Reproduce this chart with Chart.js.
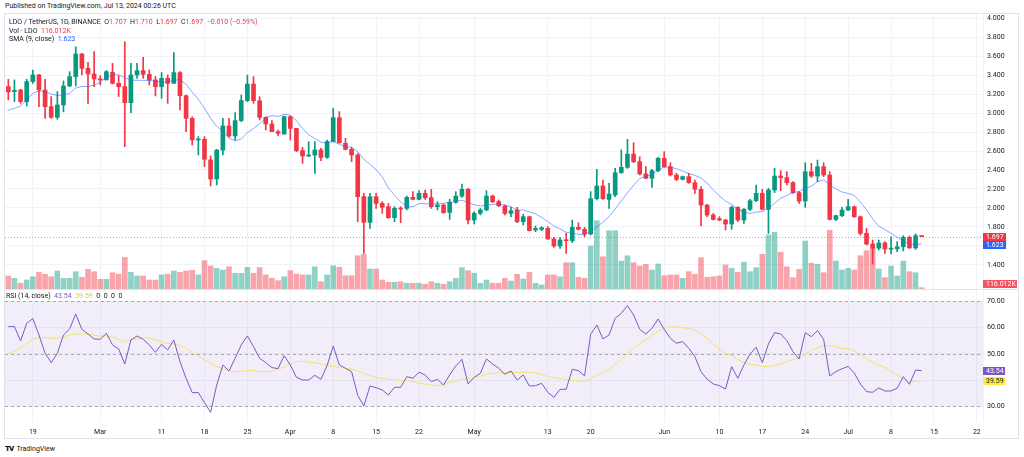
<!DOCTYPE html>
<html>
<head>
<meta charset="utf-8">
<script src="https://cdn.jsdelivr.net/npm/chart.js@4.4.1/dist/chart.umd.min.js"></script>
<style>
  body { margin: 0; width: 1024px; height: 457px; background: #fff; position: relative; overflow: hidden;
         font-family: Roboto, "Liberation Sans", sans-serif; color: #131722; }
  .abs { position: absolute; white-space: nowrap; }
  #pub { left: 5px; top: 2px; font-size: 7px; color: #131722; }
  #frame { left: 4px; top: 13px; width: 1015px; height: 426px; border: 1px solid #E0E3EB; box-sizing: border-box; }
  #sep { left: 4px; top: 289px; width: 1015px; height: 1px; background: #E0E3EB; }
  .leg { font-size: 7px; left: 9px; }
  .red { color: #F23645; }
  .blue { color: #2962FF; }
  .purple { color: #7E57C2; }
  .yellow { color: #E8C930; }
  canvas { position: absolute; }
  #logo { left: 5px; top: 444px; font-size: 7px; }
  #logo b { font-size: 8px; font-weight: 900; letter-spacing: -1px; margin-right: 3px; }
</style>
</head>
<body>
<div id="pub" class="abs">Published on TradingView.com, Jul 13, 2024 00:26 UTC</div>
<div id="frame" class="abs"></div>
<canvas id="priceChart" width="1014" height="275" style="left:5px; top:14px;"></canvas>
<canvas id="rsiChart" width="1014" height="148" style="left:5px; top:290px;"></canvas>
<div id="sep" class="abs"></div>
<div class="abs leg" style="top:18px;">LDO / TetherUS, 1D, BINANCE&nbsp;&nbsp;<span id="ohlc"></span></div>
<div class="abs leg" style="top:27px;">Vol · LDO&nbsp;&nbsp;<span class="red" id="volVal"></span></div>
<div class="abs leg" style="top:35px;">SMA (9, close)&nbsp;&nbsp;<span class="blue" id="smaVal"></span></div>
<div class="abs leg" style="top:292px; left:6px;">RSI (14, close)&nbsp;&nbsp;<span class="purple" id="rsiVal"></span>&nbsp;&nbsp;<span class="yellow" id="rsiMaVal"></span>&nbsp;&nbsp;0&nbsp;&nbsp;0&nbsp;&nbsp;0&nbsp;&nbsp;0</div>
<div id="logo" class="abs"><b>TV</b>TradingView</div>
<script>
// --- DATA (daily candles from Feb 15 to Jul 13, 2024) ---
const opens = [
  3.279, 3.227, 3.244, 3.121, 3.332, 3.402, 3.244, 3.068, 2.956, 3.086,
  3.286, 3.385, 3.624, 3.472, 3.413, 3.360, 3.350, 3.430, 3.314, 3.279,
  3.110, 3.402, 3.448, 3.409, 3.350, 3.279, 3.367, 3.314, 3.427, 3.184,
  2.945, 2.716, 2.724, 2.506, 2.305, 2.610, 2.864, 2.759, 2.921, 3.132,
  3.307, 3.131, 2.955, 2.885, 2.804, 2.779, 2.962, 2.839, 2.604, 2.547,
  2.558, 2.611, 2.533, 2.699, 2.952, 2.681, 2.618, 2.558, 2.118, 1.848,
  2.118, 2.048, 2.013, 1.897, 1.995, 1.995, 2.111, 2.090, 2.154, 2.108,
  2.013, 2.030, 1.953, 2.059, 2.125, 2.196, 1.872, 1.943, 1.978, 2.125,
  2.066, 2.020, 1.942, 1.978, 1.855, 1.907, 1.767, 1.774, 1.784, 1.672,
  1.598, 1.661, 1.654, 1.795, 1.774, 1.725, 2.097, 2.231, 2.090, 2.136,
  2.371, 2.428, 2.568, 2.488, 2.358, 2.312, 2.393, 2.523, 2.435, 2.347,
  2.301, 2.330, 2.266, 2.196, 2.030, 1.925, 1.886, 1.872, 1.830, 2.006,
  1.872, 1.985, 2.076, 2.153, 1.985, 2.189, 2.336, 2.319, 2.266, 2.161,
  2.073, 2.382, 2.336, 2.435, 2.347, 1.879, 1.918, 1.978, 2.013, 1.907,
  1.731, 1.619, 1.576, 1.630, 1.565, 1.568, 1.590, 1.689, 1.578, 1.707
];
const highs = [
  3.356, 3.350, 3.250, 3.357, 3.455, 3.409, 3.357, 3.174, 3.227, 3.339,
  3.437, 3.700, 3.631, 3.536, 3.648, 3.395, 3.448, 3.525, 3.395, 3.754,
  3.525, 3.525, 3.589, 3.455, 3.385, 3.427, 3.402, 3.638, 3.437, 3.191,
  2.962, 2.752, 2.752, 2.548, 2.618, 2.945, 2.945, 3.005, 3.191, 3.402,
  3.385, 3.173, 2.962, 2.920, 2.822, 2.969, 2.969, 2.839, 2.639, 2.699,
  2.699, 2.628, 2.716, 3.050, 3.015, 2.734, 2.639, 2.575, 2.154, 2.154,
  2.154, 2.066, 2.048, 2.013, 2.013, 2.125, 2.171, 2.182, 2.189, 2.196,
  2.066, 2.041, 2.090, 2.171, 2.252, 2.206, 1.960, 1.995, 2.182, 2.136,
  2.083, 2.030, 2.006, 2.006, 1.932, 1.914, 1.809, 1.802, 1.802, 1.689,
  1.689, 1.731, 1.872, 1.844, 1.795, 2.171, 2.407, 2.294, 2.259, 2.417,
  2.611, 2.723, 2.688, 2.540, 2.435, 2.407, 2.533, 2.593, 2.477, 2.365,
  2.336, 2.365, 2.294, 2.224, 2.037, 1.942, 1.907, 1.879, 2.020, 2.013,
  1.995, 2.090, 2.241, 2.196, 2.206, 2.417, 2.393, 2.382, 2.277, 2.171,
  2.477, 2.470, 2.505, 2.477, 2.382, 1.925, 2.006, 2.090, 2.020, 1.914,
  1.784, 1.661, 1.661, 1.644, 1.696, 1.644, 1.707, 1.703, 1.725, 1.710
];
const lows = [
  3.138, 3.121, 3.103, 3.075, 3.314, 3.068, 2.945, 2.945, 2.935, 3.015,
  3.279, 3.286, 3.402, 3.103, 3.279, 3.297, 3.350, 3.307, 3.174, 2.646,
  3.005, 3.367, 3.367, 3.297, 3.181, 3.156, 3.103, 3.314, 3.033, 2.804,
  2.664, 2.558, 2.435, 2.231, 2.242, 2.558, 2.745, 2.716, 2.910, 3.121,
  3.103, 2.927, 2.822, 2.804, 2.758, 2.779, 2.716, 2.593, 2.470, 2.540,
  2.364, 2.498, 2.523, 2.699, 2.681, 2.611, 2.488, 1.855, 1.521, 1.784,
  1.995, 1.943, 1.890, 1.855, 1.844, 1.978, 2.083, 2.083, 2.090, 1.995,
  1.978, 1.943, 1.879, 2.048, 2.111, 1.830, 1.830, 1.925, 1.971, 2.055,
  2.013, 1.925, 1.907, 1.844, 1.819, 1.756, 1.749, 1.760, 1.668, 1.584,
  1.573, 1.521, 1.633, 1.767, 1.696, 1.714, 2.083, 2.090, 1.995, 2.118,
  2.365, 2.417, 2.477, 2.347, 2.308, 2.217, 2.382, 2.428, 2.336, 2.287,
  2.294, 2.259, 2.153, 1.809, 1.907, 1.872, 1.865, 1.767, 1.774, 1.855,
  1.837, 1.971, 2.066, 1.978, 1.731, 2.161, 2.182, 2.242, 2.153, 2.048,
  2.006, 2.322, 2.277, 2.330, 1.872, 1.865, 1.907, 1.971, 1.900, 1.714,
  1.609, 1.408, 1.556, 1.521, 1.514, 1.538, 1.545, 1.573, 1.563, 1.697
];
const closes = [
  3.223, 3.241, 3.121, 3.332, 3.402, 3.244, 3.068, 2.956, 3.086, 3.286,
  3.385, 3.624, 3.472, 3.413, 3.360, 3.350, 3.437, 3.314, 3.279, 3.110,
  3.402, 3.448, 3.409, 3.350, 3.279, 3.367, 3.314, 3.427, 3.184, 2.945,
  2.716, 2.727, 2.513, 2.305, 2.610, 2.864, 2.759, 2.921, 3.132, 3.307,
  3.132, 2.955, 2.885, 2.804, 2.786, 2.962, 2.839, 2.604, 2.547, 2.558,
  2.611, 2.533, 2.699, 2.952, 2.688, 2.618, 2.558, 2.118, 1.848, 2.118,
  2.048, 2.006, 1.897, 1.995, 1.988, 2.111, 2.090, 2.154, 2.108, 2.013,
  2.030, 1.950, 2.059, 2.125, 2.196, 1.872, 1.943, 1.978, 2.125, 2.066,
  2.023, 1.942, 1.971, 1.855, 1.907, 1.760, 1.784, 1.791, 1.672, 1.598,
  1.661, 1.654, 1.795, 1.774, 1.725, 2.097, 2.231, 2.097, 2.146, 2.371,
  2.428, 2.568, 2.488, 2.358, 2.312, 2.393, 2.523, 2.435, 2.347, 2.301,
  2.330, 2.266, 2.196, 2.030, 1.925, 1.879, 1.872, 1.830, 2.006, 1.872,
  1.985, 2.076, 2.153, 1.985, 2.189, 2.336, 2.319, 2.266, 2.161, 2.073,
  2.382, 2.336, 2.435, 2.347, 1.879, 1.918, 1.978, 2.013, 1.907, 1.731,
  1.619, 1.576, 1.630, 1.565, 1.575, 1.590, 1.689, 1.578, 1.707, 1.697
];
// volume in millions of LDO
const volumes = [
  1.16, 0.95, 0.51, 0.80, 1.09, 1.49, 1.31, 1.09, 1.60, 0.95,
  0.95, 1.54, 1.04, 1.75, 1.54, 0.86, 0.86, 1.45, 1.31, 2.82,
  1.49, 1.16, 1.16, 0.80, 0.80, 1.25, 1.31, 1.60, 1.49, 1.60,
  1.66, 1.25, 2.52, 2.05, 1.84, 1.69, 1.98, 1.40, 1.40, 1.93,
  1.40, 1.91, 1.25, 0.95, 0.74, 1.09, 1.63, 1.34, 1.25, 1.25,
  1.98, 0.65, 1.25, 2.07, 1.93, 1.18, 1.18, 2.96, 3.09, 1.78,
  1.78, 0.80, 0.60, 0.60, 0.65, 0.51, 0.51, 0.51, 0.42, 0.65,
  0.51, 0.42, 0.65, 0.95, 1.90, 1.63, 1.40, 0.51, 0.80, 0.51,
  0.51, 0.95, 0.71, 1.31, 0.89, 1.49, 0.51, 0.36, 1.25, 1.25,
  1.09, 2.34, 2.34, 1.04, 0.95, 3.83, 6.08, 2.87, 5.19, 5.19,
  2.49, 2.96, 2.34, 2.05, 2.20, 1.69, 2.23, 1.18, 1.25, 1.25,
  0.95, 1.54, 1.31, 2.79, 1.04, 1.09, 1.16, 2.14, 1.84, 1.49,
  2.38, 1.54, 1.90, 3.09, 4.81, 5.05, 3.27, 1.98, 1.01, 1.75,
  4.27, 2.29, 2.20, 1.45, 5.22, 2.49, 1.69, 1.84, 1.69, 2.96,
  3.41, 3.62, 1.78, 1.01, 2.05, 1.16, 2.49, 1.54, 1.45, 0.116012
];
const rsiValues = [
  60.35, 60.35, 54.89, 61.62, 63.40, 57.17, 50.19, 46.63, 50.19, 57.17,
  59.46, 65.17, 59.33, 57.56, 55.65, 55.52, 57.81, 53.37, 51.84, 46.13,
  55.27, 56.79, 55.52, 53.37, 50.57, 53.62, 51.46, 55.27, 47.02, 40.67,
  35.21, 35.21, 31.40, 27.71, 38.13, 45.75, 43.46, 48.29, 53.37, 56.79,
  52.73, 48.29, 46.63, 44.73, 44.35, 49.30, 45.75, 41.05, 40.03, 40.03,
  41.81, 40.29, 45.49, 52.98, 45.75, 44.48, 43.21, 34.19, 30.13, 37.75,
  37.11, 36.22, 34.32, 37.24, 37.24, 41.30, 40.67, 42.95, 41.94, 39.40,
  40.29, 38.13, 41.94, 45.37, 47.90, 38.51, 41.05, 42.57, 48.03, 46.13,
  44.48, 42.19, 43.46, 40.03, 41.94, 37.75, 37.87, 38.76, 35.33, 33.43,
  36.48, 36.48, 44.10, 43.59, 41.56, 57.43, 60.98, 55.65, 57.17, 63.52,
  65.43, 68.35, 64.79, 59.33, 57.56, 59.71, 63.27, 59.33, 55.90, 54.00,
  54.63, 52.10, 48.92, 43.21, 40.29, 38.51, 37.87, 36.60, 45.11, 40.67,
  45.75, 49.94, 52.48, 46.63, 53.75, 58.06, 57.56, 55.02, 50.83, 48.03,
  58.06, 56.54, 58.83, 55.52, 41.56, 43.21, 44.30, 45.20, 42.70, 38.51,
  35.60, 35.33, 37.00, 35.84, 35.84, 36.86, 41.30, 38.38, 43.84, 43.54
];
// first values of the moving averages (they need history before Feb 15)
const smaHead = [3.029, 3.050, 3.075, 3.138, 3.209, 3.233, 3.226, 3.201];
const rsiMaHead = [50.19, 50.95, 52.48, 54.00, 55.52, 56.16, 56.16, 55.90, 55.90, 56.54, 57.17, 57.56, 57.56];

// day index (0 = Feb 15) and text of the time axis labels
const tickDays = [4, 15, 25, 32, 39, 46, 53, 60, 67, 76, 88, 95, 107, 116, 123, 130, 137, 144, 151, 158];
const tickLabels = ['19', 'Mar', '11', '18', '25', 'Apr', '8', '15', '22', 'May', '13', '20', 'Jun', '10', '17', '24', 'Jul', '8', '15', '22'];
const priceTicks = [1.4, 1.6, 1.8, 2.0, 2.2, 2.4, 2.6, 2.8, 3.0, 3.2, 3.4, 3.6, 3.8, 4.0];
const rsiTicks = [30, 40, 50, 60, 70];

// --- STYLE ---
const UP = '#089981', DOWN = '#F23645';
const GRID = '#F0F3FA';
const FONT = 'Roboto, "Liberation Sans", sans-serif';
const X_MIN = -0.54, X_MAX = 159.0;
const AXIS_W = 36;

Chart.defaults.font.family = FONT;
Chart.defaults.font.size = 7;
Chart.defaults.color = '#131722';

function movingAvg(values, period, head) {
    return values.map((v, i) => {
        if (i < head.length) return head[i];
        const win = values.slice(i - period + 1, i + 1);
        return win.reduce((a, b) => a + b, 0) / period;
    });
}

const idx = closes.map((_, i) => i);
const sma = movingAvg(closes, 9, smaHead);
const rsiMa = movingAvg(rsiValues, 14, rsiMaHead);
const isUp = idx.map(i => closes[i] >= opens[i]);
const candleColors = isUp.map(u => u ? UP : DOWN);
const volColors = isUp.map(u => u ? 'rgba(8,153,129,0.45)' : 'rgba(242,54,69,0.45)');

const last = closes.length - 1;

// --- LEGEND TEXT ---
const change = closes[last] - closes[last - 1];
const pct = change / closes[last - 1] * 100;
const minus = v => (v < 0 ? '\u2212' : '+');
document.getElementById('ohlc').innerHTML =
    `O<span class="red">${opens[last].toFixed(3)}</span>&nbsp;&nbsp;H<span class="red">${highs[last].toFixed(3)}</span>&nbsp;&nbsp;` +
    `L<span class="red">${lows[last].toFixed(3)}</span>&nbsp;&nbsp;C<span class="red">${closes[last].toFixed(3)}</span>&nbsp;&nbsp;` +
    `<span class="red">${minus(change)}${Math.abs(change).toFixed(3)} (${minus(pct)}${Math.abs(pct).toFixed(2)}%)</span>`;
const volText = (volumes[last] * 1000).toFixed(3) + 'K';
document.getElementById('volVal').textContent = volText;
document.getElementById('smaVal').textContent = sma[last].toFixed(3);
document.getElementById('rsiVal').textContent = rsiValues[last].toFixed(2);
document.getElementById('rsiMaVal').textContent = rsiMa[last].toFixed(2);

// keep the scale label half-heights from shrinking the plot area
function noPad(s) {
    s.paddingTop = 0;
    s.paddingBottom = 0;
    s.paddingLeft = 0;
    s.paddingRight = 0;
}

// --- SHARED X AXIS ---
function xAxis(showLabels) {
    return {
        type: 'linear',
        min: X_MIN,
        max: X_MAX,
        offset: false,
        border: { display: false },
        grid: { color: GRID, drawTicks: false, offset: false },
        afterBuildTicks: s => { s.ticks = tickDays.map(v => ({ value: v })); },
        ticks: {
            display: showLabels,
            autoSkip: false,
            maxRotation: 0,
            padding: 6,
            callback: v => tickLabels[tickDays.indexOf(v)] ?? ''
        },
        afterFit: s => { s.height = showLabels ? 16 : 0; noPad(s); }
    };
}

function yAxis(min, max, ticksList, hidden, digits) {
    return {
        position: 'right',
        min: min,
        max: max,
        border: { display: true, color: GRID },
        grid: { color: GRID, drawTicks: false },
        afterBuildTicks: s => { s.ticks = ticksList.map(v => ({ value: v })); },
        ticks: { padding: 4, callback: v => (v === hidden ? '' : v.toFixed(digits)) },
        afterFit: s => { s.width = AXIS_W; noPad(s); }
    };
}

function tag(ctx, x, y, w, text, bg, fg) {
    ctx.save();
    ctx.fillStyle = bg;
    ctx.fillRect(x, Math.round(y - 4), w, 8);
    ctx.fillStyle = fg;
    ctx.font = '7px ' + FONT;
    ctx.textBaseline = 'middle';
    ctx.textAlign = 'left';
    ctx.fillText(text, x + 3, Math.round(y - 4) + 4.5);
    ctx.restore();
}

// --- PRICE PANE ---
const priceOverlay = {
    id: 'priceOverlay',
    afterDatasetsDraw(chart) {
        const { ctx, chartArea } = chart;
        const y = chart.scales.yPrice.getPixelForValue(closes[last]);
        ctx.save();
        ctx.strokeStyle = 'rgba(242,54,69,0.55)';
        ctx.setLineDash([1, 2]);
        ctx.lineWidth = 1;
        ctx.beginPath();
        ctx.moveTo(chartArea.left, Math.round(y) + 0.5);
        ctx.lineTo(chartArea.right, Math.round(y) + 0.5);
        ctx.stroke();
        ctx.restore();
    },
    afterDraw(chart) {
        const { ctx, chartArea } = chart;
        const yP = chart.scales.yPrice;
        const x = chartArea.right;
        const yClose = yP.getPixelForValue(closes[last]);
        tag(ctx, x, yClose, 23, closes[last].toFixed(3), DOWN, '#fff');
        tag(ctx, x, Math.max(yP.getPixelForValue(sma[last]), yClose + 8), 23, sma[last].toFixed(3), '#2962FF', '#fff');
        const yv = Math.min(chart.scales.yVol.getPixelForValue(volumes[last]), chartArea.bottom - 5);
        tag(ctx, x, yv, 34, volText, '#F7525F', '#fff');
    }
};

new Chart(document.getElementById('priceChart'), {
    type: 'bar',
    data: {
        datasets: [
            {
                type: 'line',
                data: idx.map(i => ({ x: i, y: sma[i] })),
                yAxisID: 'yPrice',
                borderColor: 'rgba(41,98,255,0.55)',
                borderWidth: 1,
                pointRadius: 0,
                order: 1
            },
            {
                data: idx.map(i => ({ x: i, y: [opens[i], closes[i]] })),
                yAxisID: 'yPrice',
                backgroundColor: candleColors,
                barThickness: 4,
                minBarLength: 1,
                grouped: false,
                order: 2
            },
            {
                data: idx.map(i => ({ x: i, y: [lows[i], highs[i]] })),
                yAxisID: 'yPrice',
                backgroundColor: candleColors,
                barThickness: 1,
                grouped: false,
                order: 3
            },
            {
                data: idx.map(i => ({ x: i, y: volumes[i] })),
                yAxisID: 'yVol',
                backgroundColor: volColors,
                barThickness: 5,
                grouped: false,
                order: 4
            }
        ]
    },
    options: {
        responsive: false,
        animation: false,
        layout: { autoPadding: false, padding: 0 },
        plugins: { legend: { display: false }, tooltip: { enabled: false } },
        scales: {
            x: xAxis(false),
            yPrice: yAxis(1.1445, 4.0454, priceTicks, 1.6, 3),
            yVol: { display: false, min: 0, max: 24.475 }
        }
    },
    plugins: [priceOverlay]
});

// --- RSI PANE ---
const rsiOverlay = {
    id: 'rsiOverlay',
    beforeDatasetsDraw(chart) {
        const { ctx, chartArea } = chart;
        const yR = chart.scales.yRsi;
        const top = yR.getPixelForValue(70), bottom = yR.getPixelForValue(30);
        ctx.save();
        ctx.fillStyle = 'rgba(126,87,194,0.1)';
        ctx.fillRect(chartArea.left, top, chartArea.right - chartArea.left, bottom - top);
        ctx.strokeStyle = 'rgba(120,123,134,0.6)';
        ctx.setLineDash([3, 3]);
        ctx.lineWidth = 1;
        [70, 50, 30].forEach(v => {
            const y = Math.round(yR.getPixelForValue(v)) + 0.5;
            ctx.beginPath();
            ctx.moveTo(chartArea.left, y);
            ctx.lineTo(chartArea.right, y);
            ctx.stroke();
        });
        ctx.restore();
    },
    afterDraw(chart) {
        const { ctx, chartArea } = chart;
        const yR = chart.scales.yRsi;
        tag(ctx, chartArea.right, yR.getPixelForValue(rsiValues[last]), 22, rsiValues[last].toFixed(2), '#7E57C2', '#fff');
        tag(ctx, chartArea.right, yR.getPixelForValue(rsiMa[last]), 22, rsiMa[last].toFixed(2), '#FFEB3B', '#131722');
    }
};

new Chart(document.getElementById('rsiChart'), {
    type: 'line',
    data: {
        datasets: [
            {
                data: idx.map(i => ({ x: i, y: rsiValues[i] })),
                yAxisID: 'yRsi',
                borderColor: '#7E57C2',
                borderWidth: 1,
                pointRadius: 0,
                order: 1
            },
            {
                data: idx.map(i => ({ x: i, y: rsiMa[i] })),
                yAxisID: 'yRsi',
                borderColor: '#F5E26B',
                borderWidth: 1,
                pointRadius: 0,
                order: 2
            }
        ]
    },
    options: {
        responsive: false,
        animation: false,
        layout: { autoPadding: false, padding: 0 },
        plugins: { legend: { display: false }, tooltip: { enabled: false } },
        scales: {
            x: xAxis(true),
            yRsi: yAxis(24.02, 74.3, rsiTicks, 40, 2)
        }
    },
    plugins: [rsiOverlay]
});
</script>
</body>
</html>
